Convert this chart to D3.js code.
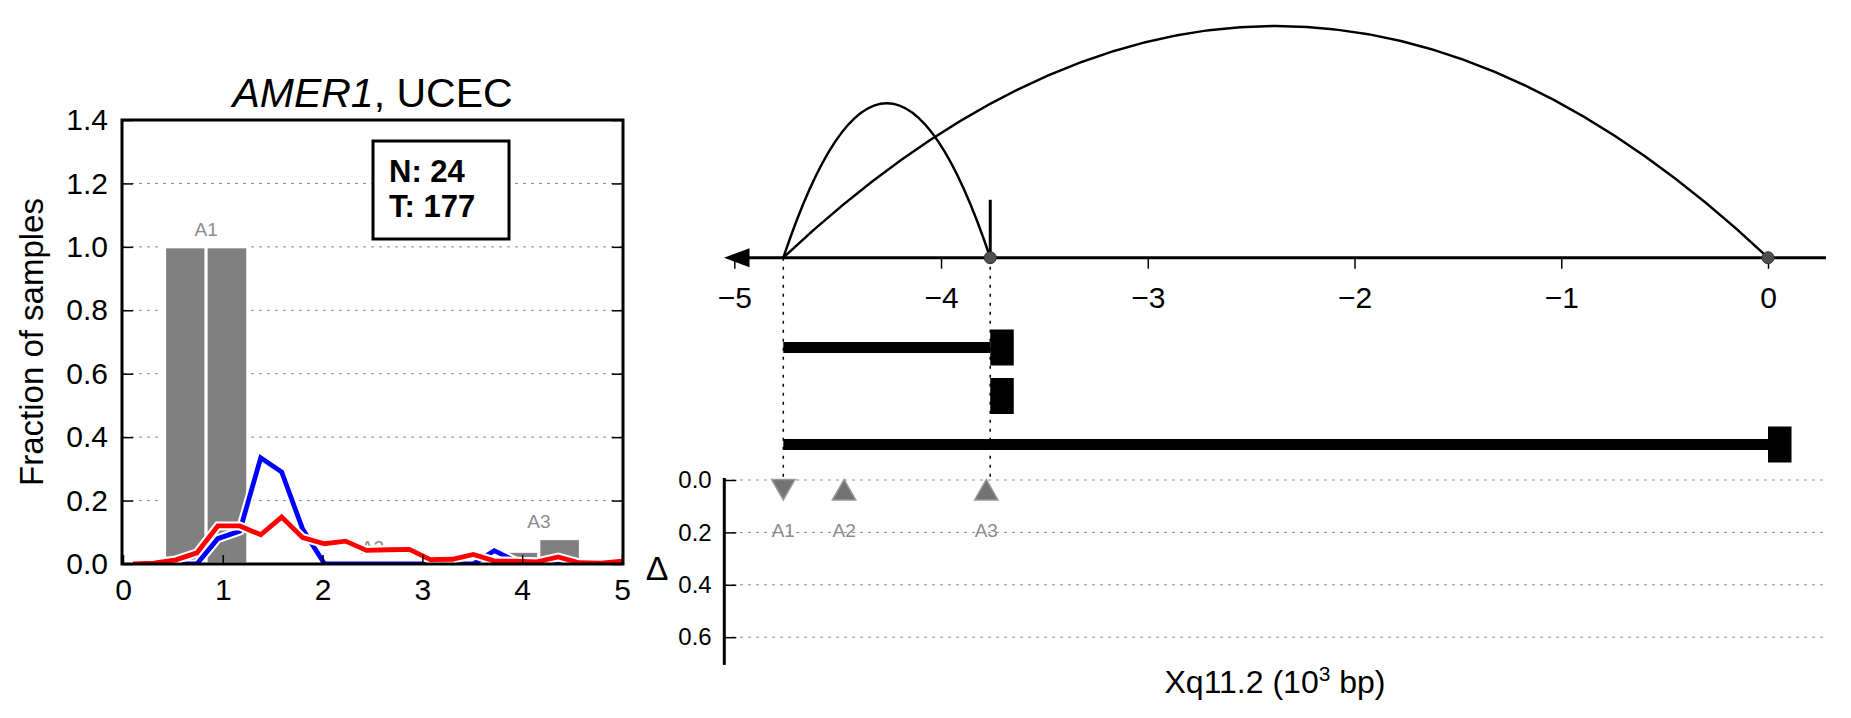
<!DOCTYPE html>
<html><head><meta charset="utf-8">
<script src="https://cdn.jsdelivr.net/npm/d3@7"></script>
<style>
body{margin:0;background:#fff}
svg{display:block;font-family:"Liberation Sans",Arial,Helvetica,sans-serif}
</style>
</head><body>
<svg id="c" width="1851" height="718"></svg>
<script>
// ---------------- LEFT PANEL DATA ----------------
const yTicks = [0, 0.2, 0.4, 0.6, 0.8, 1.0, 1.2, 1.4];
const xTicks = [0, 1, 2, 3, 4, 5];
const binLeft  = [0.417, 0.833, 2.083, 2.5, 3.75, 4.167];
const binRight = [0.833, 1.25, 2.5, 2.917, 4.167, 4.583];
const binValue = [1.0, 1.0, 0, 0, 0.04, 0.08];
const groupLabel  = ["A1", "A2", "A3"];
const groupCenter = [0.833, 2.5, 4.167];
const groupMax    = [1.0, 0.0, 0.08];
const curveX = [0.10,0.31,0.53,0.74,0.95,1.17,1.38,1.59,1.80,2.02,2.23,2.44,2.66,2.87,3.08,3.30,3.51,3.72,3.93,4.15,4.36,4.57,4.79,5.00];
const blueVals = [0,0,0,0,0.08,0.104,0.335,0.29,0.11,0,0,0,0,0,0,0,0,0.042,0.01,0,0,0,0,0];
const redVals  = [0,0.003,0.013,0.035,0.12,0.12,0.092,0.148,0.083,0.064,0.072,0.043,0.045,0.046,0.014,0.015,0.030,0.010,0.009,0.007,0.022,0.004,0.003,0.009];
const infoLines = ["N: 24", "T: 177"];

// ---------------- RIGHT PANEL DATA ----------------
const genomeTicks = [-5, -4, -3, -2, -1, 0];
const arcStart  = [-4.763, -4.763];
const arcEnd    = [-3.762, 0];
const arcHeight = [0.667, 1.0];
const breakDots = [-3.762, 0];
const markX = [-3.762];
const markH = [0.25];
const guideX = [-4.763, -3.762];
const txStart = [-4.763, -3.762, -4.763];
const txEnd   = [-3.762, -3.762, 0];
const mutX     = [-4.763, -4.469, -3.781];
const mutLabel = ["A1", "A2", "A3"];
const mutDir   = ["down", "up", "up"];
const mutDelta = [0.037, 0.037, 0.037];
const mutLabelDelta = 0.19;
const deltaTicks = [0, 0.2, 0.4, 0.6];

const svg = d3.select("#c");

// ================= LEFT PANEL =================
const L = {x0:123, x1:622, y0:564, y1:120};
const x = d3.scaleLinear().domain([0,5]).range([L.x0, L.x1]);
const y = d3.scaleLinear().domain([0,1.4]).range([L.y0, L.y1]);

svg.append("defs").append("clipPath").attr("id","lclip")
  .append("rect").attr("x",L.x0).attr("y",L.y1).attr("width",L.x1-L.x0).attr("height",L.y0-L.y1);

// grid
svg.append("g").selectAll("line").data(yTicks.filter(d=>d>0 && d<1.4)).join("line")
  .attr("x1",L.x0).attr("x2",L.x1).attr("y1",d=>y(d)).attr("y2",d=>y(d))
  .attr("stroke","#8a8a8a").attr("stroke-width",1).attr("stroke-dasharray","3,5");

// bars
const lp = svg.append("g").attr("clip-path","url(#lclip)");
lp.selectAll("rect.bar").data(binValue.map((v,i)=>({l:binLeft[i],r:binRight[i],v}))).join("rect")
  .attr("class","bar")
  .attr("x",d=>x(d.l)).attr("width",d=>x(d.r)-x(d.l))
  .attr("y",d=>y(d.v)).attr("height",d=>y(0)-y(d.v))
  .attr("fill","#808080").attr("stroke","#fff").attr("stroke-width",3);

// group labels
lp.selectAll("text.gl").data(groupLabel).join("text").attr("class","gl")
  .attr("x",(d,i)=>x(groupCenter[i])).attr("y",(d,i)=>y(groupMax[i]+0.033))
  .attr("text-anchor","middle").attr("font-size",19).attr("fill","#8c8c8c").text(d=>d);

// lines with white halo
const lineGen = d3.line().x((d,i)=>x(curveX[i])).y(d=>y(d));
[[blueVals,"#0000ff"],[redVals,"#ff0000"]].forEach(([vals,col])=>{
  lp.append("path").attr("d",lineGen(vals)).attr("fill","none")
    .attr("stroke","#fff").attr("stroke-width",9).attr("stroke-linejoin","miter");
  lp.append("path").attr("d",lineGen(vals)).attr("fill","none")
    .attr("stroke",col).attr("stroke-width",4.8).attr("stroke-linejoin","miter");
});

// info box
svg.append("rect").attr("x",373).attr("y",141).attr("width",136).attr("height",98)
  .attr("fill","#fff").attr("stroke","#000").attr("stroke-width",3);
svg.append("g").selectAll("text").data(infoLines).join("text")
  .attr("x",389).attr("y",(d,i)=>182+i*35).attr("font-size",31).attr("font-weight","bold")
  .text(d=>d);

// axes
const ya = svg.append("g").attr("transform",`translate(${L.x0},0)`)
  .call(d3.axisLeft(y).tickValues(yTicks).tickFormat(d3.format(".1f")).tickSizeInner(-10).tickSizeOuter(0).tickPadding(15));
ya.select(".domain").remove();
ya.selectAll("text").attr("font-size",30).attr("font-family",null);
ya.selectAll("line").attr("stroke-width",1.5);
const yb = svg.append("g").attr("transform",`translate(${L.x1},0)`)
  .call(d3.axisRight(y).tickValues(yTicks).tickSizeInner(-10).tickSizeOuter(0).tickFormat(""));
yb.select(".domain").remove();
yb.selectAll("line").attr("stroke-width",1.5);
const xa = svg.append("g").attr("transform",`translate(0,${L.y0})`)
  .call(d3.axisBottom(x).tickValues(xTicks).tickFormat(d3.format("d")).tickSizeInner(-9).tickSizeOuter(0).tickPadding(15));
xa.select(".domain").remove();
xa.selectAll("text").attr("font-size",30).attr("font-family",null);
xa.selectAll("line").attr("stroke-width",1.5);

// frame
svg.append("rect").attr("x",L.x0-1).attr("y",L.y1).attr("width",L.x1-L.x0+2).attr("height",L.y0-L.y1)
  .attr("fill","none").attr("stroke","#000").attr("stroke-width",3);

// title
const tt = svg.append("text").attr("x",(L.x0+L.x1)/2).attr("y",107).attr("text-anchor","middle").attr("font-size",41);
tt.append("tspan").attr("font-style","italic").text("AMER1");
tt.append("tspan").text(", UCEC");

// y label
svg.append("text").attr("transform","translate(43,342) rotate(-90)").attr("text-anchor","middle")
  .attr("font-size",33).text("Fraction of samples");

// ================= RIGHT PANEL =================
const xr = d3.scaleLinear().domain([-5,0]).range([734.3,1768]);
const axisY = 257.7;
const arcY = d3.scaleLinear().domain([0,1]).range([axisY, 26]);
const rowY = d3.scalePoint().domain([0,1,2]).range([347.5,444.5]);
const dY = d3.scaleLinear().domain([0,0.7]).range([480,663.4]);
const rightEnd = 1826;

// delta grid
svg.append("g").selectAll("line").data(deltaTicks).join("line")
  .attr("x1",724).attr("x2",rightEnd).attr("y1",d=>dY(d)).attr("y2",d=>dY(d))
  .attr("stroke","#8a8a8a").attr("stroke-width",1).attr("stroke-dasharray","3,5");

// dotted guide lines
svg.append("g").selectAll("line").data(guideX).join("line")
  .attr("x1",d=>xr(d)).attr("x2",d=>xr(d)).attr("y1",axisY).attr("y2",dY(0))
  .attr("stroke","#000").attr("stroke-width",1.5).attr("stroke-dasharray","3,6");

// arcs (parabolic)
svg.append("g").selectAll("path").data(arcStart.map((s,i)=>({s,e:arcEnd[i],h:arcHeight[i]}))).join("path")
  .attr("d",d=>`M${xr(d.s)},${axisY} Q${(xr(d.s)+xr(d.e))/2},${arcY(2*d.h)} ${xr(d.e)},${axisY}`)
  .attr("fill","none").attr("stroke","#000").attr("stroke-width",2.5);

// axis ticks and labels
const ra = svg.append("g").attr("transform",`translate(0,${axisY})`)
  .call(d3.axisBottom(xr).tickValues(genomeTicks).tickFormat(d3.format("d")).tickSizeInner(11).tickSizeOuter(0).tickPadding(18));
ra.select(".domain").remove();
ra.selectAll("text").attr("font-size",30).attr("font-family",null);
ra.selectAll("line").attr("stroke-width",1.5);

// axis line + arrow
svg.append("line").attr("x1",736).attr("x2",rightEnd).attr("y1",axisY).attr("y2",axisY)
  .attr("stroke","#000").attr("stroke-width",3);
svg.append("path").attr("d",`M724,${axisY} L749.5,${axisY-9.5} L749.5,${axisY+9.5} Z`).attr("fill","#000");

// vertical mark
svg.append("g").selectAll("line").data(markX).join("line")
  .attr("x1",d=>xr(d)).attr("x2",d=>xr(d)).attr("y1",axisY).attr("y2",(d,i)=>arcY(markH[i]))
  .attr("stroke","#000").attr("stroke-width",3);

// breakpoint dots
svg.append("g").selectAll("circle").data(breakDots).join("circle")
  .attr("cx",d=>xr(d)).attr("cy",axisY).attr("r",6)
  .attr("fill","#505050").attr("stroke","#333").attr("stroke-width",1);

// transcripts
const tx = svg.append("g");
txStart.forEach((s,i)=>{
  if (txEnd[i] !== s) {
    tx.append("line").attr("x1",xr(s)).attr("x2",xr(txEnd[i])).attr("y1",rowY(i)).attr("y2",rowY(i))
      .attr("stroke","#000").attr("stroke-width",11);
  }
  tx.append("rect").attr("x",xr(txEnd[i])).attr("y",rowY(i)-18).attr("width",23.5).attr("height",36).attr("fill","#000");
});

// delta axis
const da = svg.append("g").attr("transform","translate(724.3,0)")
  .call(d3.axisLeft(dY).tickValues(deltaTicks).tickFormat(d3.format(".1f")).tickSizeInner(-12).tickSizeOuter(0).tickPadding(12.6));
da.select(".domain").remove();
da.selectAll("text").attr("font-size",24).attr("font-family",null);
da.selectAll("line").attr("stroke-width",1.5);
svg.append("line").attr("x1",724.3).attr("x2",724.3).attr("y1",dY(0)-2).attr("y2",dY(0.7)+1.5)
  .attr("stroke","#000").attr("stroke-width",3);
svg.append("text").attr("x",657).attr("y",580).attr("text-anchor","middle").attr("font-size",34).text("Δ");

// mutation markers
const tri = (cx,cy,dir)=>{
  const w=11.7, h=10.3;
  return dir==="down"
    ? `M${cx-w},${cy-h} L${cx+w},${cy-h} L${cx},${cy+h} Z`
    : `M${cx-w},${cy+h} L${cx+w},${cy+h} L${cx},${cy-h} Z`;
};
svg.append("g").selectAll("path").data(mutX).join("path")
  .attr("d",(d,i)=>tri(xr(d),dY(mutDelta[i]),mutDir[i]))
  .attr("fill","#737373").attr("stroke","#9a9a9a").attr("stroke-width",1.5);
svg.append("g").selectAll("text").data(mutLabel).join("text")
  .attr("x",(d,i)=>xr(mutX[i])).attr("y",dY(mutLabelDelta)+7)
  .attr("text-anchor","middle").attr("font-size",19).attr("fill","#8c8c8c").text(d=>d);

// x label
const xl = svg.append("text").attr("x",(724+rightEnd)/2).attr("y",693).attr("text-anchor","middle").attr("font-size",32);
xl.append("tspan").text("Xq11.2 (10");
xl.append("tspan").attr("font-size",21).attr("dy",-12).text("3");
xl.append("tspan").attr("dy",12).text(" bp)");
</script>
</body></html>
